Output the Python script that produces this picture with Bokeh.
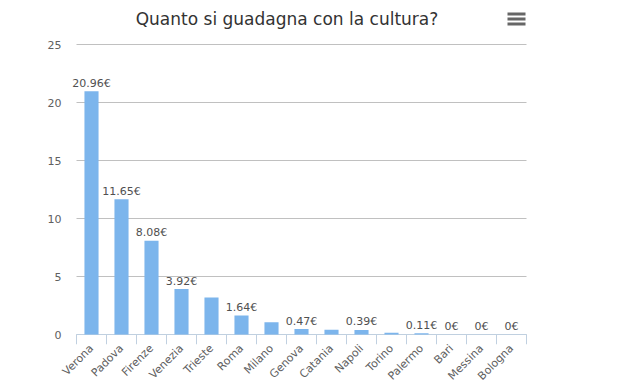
from bokeh.plotting import figure
from bokeh.models import Range1d, FixedTicker, ColumnDataSource
from bokeh.embed import file_html
from bokeh.resources import INLINE
from bokeh.core.properties import value
import math

cities = ["Verona", "Padova", "Firenze", "Venezia", "Trieste", "Roma", "Milano",
          "Genova", "Catania", "Napoli", "Torino", "Palermo", "Bari", "Messina", "Bologna"]
earnings = [20.96, 11.65, 8.08, 3.92, 3.2, 1.64, 1.05, 0.47, 0.42, 0.39, 0.15, 0.11, 0.0, 0.0, 0.0]
data_labels = ["20.96€", "11.65€", "8.08€", "3.92€", "", "1.64€", "", "0.47€", "",
               "0.39€", "", "0.11€", "0€", "0€", "0€"]
y_ticks = [0, 5, 10, 15, 20, 25]
title_text = "Quanto si guadagna con la cultura?"

FONT = "DejaVu Sans"
n = len(cities)
idx = list(range(n))

# layout (pixels): frame spans the canvas top so title/menu can be drawn in it
FRAME_LEFT, FRAME_W, FRAME_H = 66, 464, 344
AXIS_PX = 334            # pixel row of y = 0
PX_PER_CAT = 30.0
PX_PER_UNIT = 290.0 / 25.0
x_start = -0.5 - (76 - FRAME_LEFT) / PX_PER_CAT
x_end = x_start + FRAME_W / PX_PER_CAT
y_end = AXIS_PX / PX_PER_UNIT
y_start = -(FRAME_H - AXIS_PX) / PX_PER_UNIT


def wx(px):
    return x_start + (px - FRAME_LEFT) / PX_PER_CAT


def wy(py):
    return (AXIS_PX - py) / PX_PER_UNIT


p = figure(frame_width=FRAME_W, frame_height=FRAME_H, output_backend="svg",
           toolbar_location=None, x_range=Range1d(x_start, x_end),
           y_range=Range1d(y_start, y_end),
           min_border_left=FRAME_LEFT, min_border_right=602 - FRAME_LEFT - FRAME_W,
           min_border_top=0, min_border_bottom=0)
p.outline_line_color = None
p.xgrid.grid_line_color = None
p.ygrid.grid_line_color = None

# grid lines
p.segment(x0=[-0.5] * len(y_ticks), x1=[n - 0.5] * len(y_ticks), y0=y_ticks, y1=y_ticks,
          line_color="#C0C0C0", line_width=1)
# x axis line and category boundary ticks
p.segment(x0=[-0.5], x1=[n - 0.5], y0=[0], y1=[0], line_color="#C0D0E0", line_width=1)
bounds = [i - 0.5 for i in range(n + 1)]
p.segment(x0=bounds, x1=bounds, y0=[0] * len(bounds), y1=[wy(AXIS_PX + 10)] * len(bounds),
          line_color="#C0D0E0", line_width=1)

src = ColumnDataSource(dict(x=idx, top=earnings, lab=data_labels))
p.vbar(x="x", top="top", bottom=0, width=0.47, source=src, fill_color="#7CB5EC", line_color=None)
p.text(x="x", y="top", text="lab", source=src, text_align="center", text_baseline="alphabetic",
       y_offset=-8, text_font=value(FONT), text_font_size="11px", text_color="#505050")

# title
p.text(x=[wx(286.5)], y=[wy(18)], text=[title_text], text_align="center",
       text_baseline="alphabetic", text_font=value(FONT), text_font_size="17px",
       text_color="#333333")
# menu icon
p.quad(left=[wx(507)] * 3, right=[wx(525)] * 3,
       top=[wy(12), wy(17), wy(22)], bottom=[wy(15), wy(20), wy(25)],
       fill_color="#666666", line_color=None)

# y axis
p.yaxis.ticker = FixedTicker(ticks=y_ticks)
p.yaxis.axis_line_color = None
p.yaxis.major_tick_line_color = None
p.yaxis.minor_tick_line_color = None
p.yaxis.major_tick_out = 0
p.yaxis.major_tick_in = 0
p.yaxis.major_label_standoff = 5
p.yaxis.major_label_text_font = FONT
p.yaxis.major_label_text_font_size = "11px"
p.yaxis.major_label_text_color = "#606060"

# x axis (labels only)
p.xaxis.ticker = FixedTicker(ticks=idx)
p.xaxis.major_label_overrides = {i: c for i, c in enumerate(cities)}
p.xaxis.axis_line_color = None
p.xaxis.major_tick_line_color = None
p.xaxis.minor_tick_line_color = None
p.xaxis.major_tick_out = 0
p.xaxis.major_tick_in = 0
p.xaxis.major_label_orientation = math.pi / 4
p.xaxis.major_label_standoff = 2
p.xaxis.major_label_text_font = FONT
p.xaxis.major_label_text_font_size = "11px"
p.xaxis.major_label_text_color = "#606060"

open("out.html", "w").write(file_html(p, INLINE))
